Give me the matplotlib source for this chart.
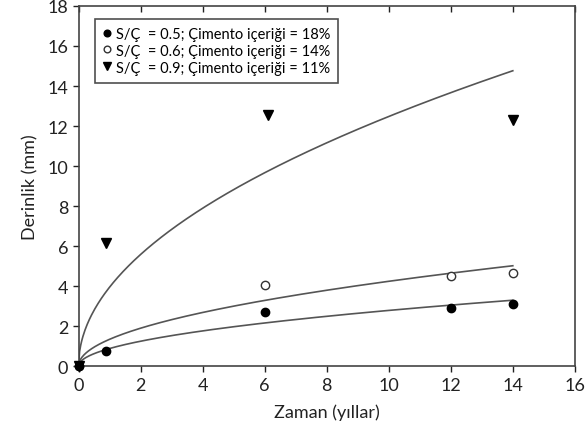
import numpy as np
import matplotlib
matplotlib.use("Agg")
import matplotlib.pyplot as plt

plt.rcParams['font.family'] = ['Lato', 'DejaVu Sans']

# Data
t_05 = [0, 0.9, 6.0, 12.0, 14.0]
d_05 = [0, 0.75, 2.7, 2.9, 3.1]
t_06 = [0, 6.0, 12.0, 14.0]
d_06 = [0, 4.05, 4.5, 4.65]
t_09 = [0, 0.9, 6.1, 14.0]
d_09 = [0, 6.15, 12.55, 12.3]
labels = ["S/Ç  = 0.5; Çimento içeriği = 18%",
          "S/Ç  = 0.6; Çimento içeriği = 14%",
          "S/Ç  = 0.9; Çimento içeriği = 11%"]
xticks = list(range(0, 17, 2))
yticks = list(range(0, 19, 2))

fig = plt.figure(figsize=(5.86, 4.35), dpi=100)
ax = fig.add_axes([0.134, 0.156, 0.847, 0.828])

def sqrt_fit(t, d):
    t = np.asarray(t, float); d = np.asarray(d, float)
    k = np.sum(d * np.sqrt(t)) / np.sum(t)
    tt = np.linspace(0, max(t), 400)
    return tt, k * np.sqrt(tt)

for t, d in [(t_05, d_05), (t_06, d_06), (t_09, d_09)]:
    tt, dd = sqrt_fit(t, d)
    ax.plot(tt, dd, color='#555555', lw=1.2, zorder=2)

ax.plot(t_06, d_06, 'o', mfc='white', mec='#333333', mew=1.0, ms=6, ls='none', label=labels[1], zorder=3, clip_on=False)
ax.plot(t_05, d_05, 'o', color='black', ms=6, ls='none', label=labels[0], zorder=4, clip_on=False)
ax.plot(t_09, d_09, 'v', color='black', ms=7, ls='none', label=labels[2], zorder=4, clip_on=False)

ax.set_xlim(0, 16)
ax.set_ylim(0, 18)
ax.set_xticks(xticks)
ax.set_yticks(yticks)
ax.tick_params(axis='both', labelsize=13, colors='#222222', length=4, width=1)
ax.xaxis.set_ticks_position('both')
for tk in ax.xaxis.get_major_ticks():
    tk.tick2line.set_marker(3)  # inward on top
ax.set_xlabel("Zaman (yıllar)", fontsize=13, color='#222222', labelpad=8)
ax.set_ylabel("Derinlik (mm)", fontsize=13, color='#222222', labelpad=6)
for s in ax.spines.values():
    s.set_color('#444444'); s.set_linewidth(1.2)

handles, labs = ax.get_legend_handles_labels()
order = [labs.index(l) for l in labels]
leg = ax.legend([handles[i] for i in order], [labs[i] for i in order],
                loc='upper left', bbox_to_anchor=(0.018, 0.985), fontsize=10.5,
                frameon=True, fancybox=False, edgecolor='#222222', handlelength=0.6,
                handletextpad=0.3, borderpad=0.55, labelspacing=0.2, markerscale=0.8)
leg.get_frame().set_linewidth(1.2)

fig.savefig("out.png", dpi=100)
